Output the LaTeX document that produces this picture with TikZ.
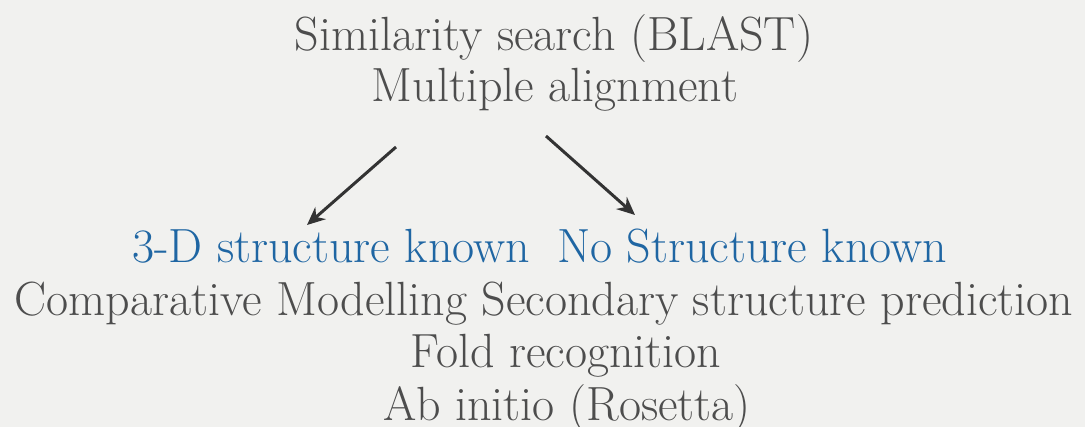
\documentclass[tikz,border=0pt]{standalone}
\usetikzlibrary{arrows.meta}
\definecolor{bgc}{HTML}{F1F1EF}
\definecolor{txt}{HTML}{4D4D4D}
\definecolor{blu}{HTML}{1F66A3}
\definecolor{arr}{HTML}{333333}
\tikzset{
  lbl/.style={anchor=base, inner sep=0pt, text=txt, font=\fontsize{24}{28}\selectfont},
  bl/.style={lbl, text=blu},
  conn/.style={draw=arr, line width=1.5pt, -{Stealth[length=9pt,width=8pt]}}
}
\begin{document}
\begin{tikzpicture}[x=0.5pt,y=-0.5pt]
\fill[bgc] (0,0) rectangle (1085,427);
\useasboundingbox (0,0) rectangle (1085,427);
\node[lbl] (sim) at (554,51) {Similarity search (BLAST)};
\node[lbl] (mul) at (555,102) {Multiple alignment};
\node[bl] (known) at (331,262) {3-D structure known};
\node[bl] (none) at (752,262) {No Structure known};
\node[lbl] (comp) at (544,315) {Comparative Modelling Secondary structure prediction};
\node[lbl] (fold) at (566,367) {Fold recognition};
\node[lbl] (ab) at (567,420) {Ab initio (Rosetta)};
\coordinate (l1) at (396,147);
\coordinate (l2) at (307,225);
\coordinate (r1) at (546,136);
\coordinate (r2) at (635,215);
\draw[conn] (l1) -- (l2);
\draw[conn] (r1) -- (r2);
\end{tikzpicture}
\end{document}
